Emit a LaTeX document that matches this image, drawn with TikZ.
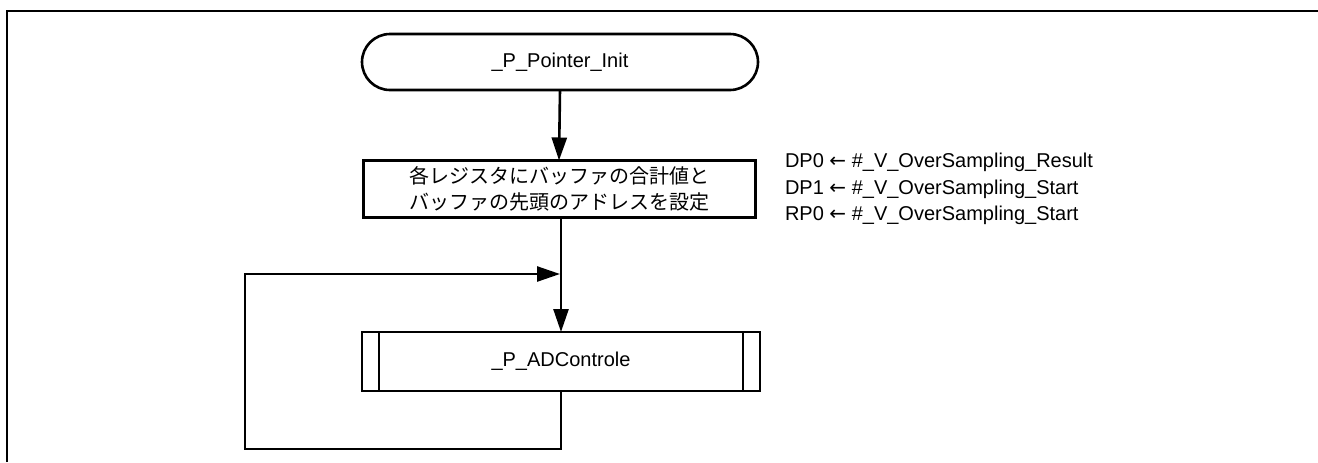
\documentclass[tikz,border=0pt]{standalone}
\usepackage{fontspec}
\setmainfont{Liberation Sans}
\newfontfamily\jp{Noto Sans CJK JP}
\newfontfamily\arrfont{DejaVu Sans}
\usetikzlibrary{arrows.meta}
\begin{document}
\begin{tikzpicture}[x=0.5pt,y=-0.5pt,
  every node/.style={font=\fontsize{10pt}{13.25pt}\selectfont, inner sep=0pt, outer sep=0pt},
  conn/.style={line width=1.3pt, -{Triangle[length=11.5pt,width=7.5pt]}},
  plain/.style={line width=1.3pt},
  termbox/.style={draw, line width=1.3pt, minimum width=198pt, minimum height=28pt, rounded corners=14pt},
  procbox/.style={draw, line width=1.5pt, minimum width=196pt, minimum height=28.5pt, align=center},
  subbox/.style={draw, line width=1.3pt, minimum width=199pt, minimum height=29.5pt}]
\useasboundingbox (0,0) rectangle (1318,462);
% frame
\draw[line width=1pt] (7,462) -- (7,11) -- (1318,11);
% nodes
\node[termbox] (term) at (560,62) {\_P\_Pointer\_Init};
\node[procbox] (proc) at (559,189) {\jp 各レジスタにバッファの合計値と\\ \jp バッファの先頭のアドレスを設定};
\node[subbox] (sub) at (561,361.5) {\_P\_ADControle};
\draw[plain] ([xshift=8.5pt]sub.north west) -- ([xshift=8.5pt]sub.south west);
\draw[plain] ([xshift=-8.5pt]sub.north east) -- ([xshift=-8.5pt]sub.south east);
\node[anchor=west, align=left] (note) at (785,189) {DP0 {\arrfont ←} \#\_V\_OverSampling\_Result\\DP1 {\arrfont ←} \#\_V\_OverSampling\_Start\\RP0 {\arrfont ←} \#\_V\_OverSampling\_Start};
% connectors
\coordinate (j) at (560,274);
\coordinate (lb) at (245,449);
\draw[conn] (term.south) -- (proc.north);
\draw[conn] (proc.south -| sub.north) -- (sub.north);
\draw[conn] (sub.south) |- (lb) |- (j);
\end{tikzpicture}
\end{document}
